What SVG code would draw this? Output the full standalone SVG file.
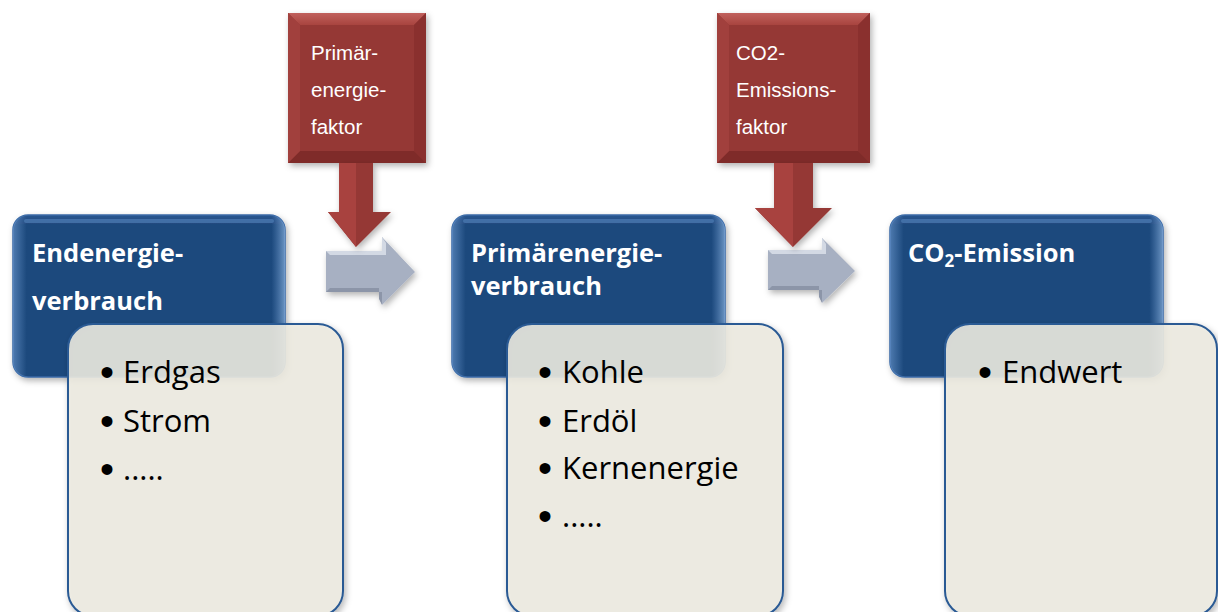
<svg xmlns="http://www.w3.org/2000/svg" width="1218" height="612" viewBox="0 0 1218 612">
<defs>
<style>
.title{font-family:"Open Sans","Liberation Sans",sans-serif;font-weight:bold;font-size:25.5px;fill:#ffffff}
.item{font-family:"Open Sans","Liberation Sans",sans-serif;font-size:31px;fill:#000000}
.bul{font-family:"Liberation Sans",Arial,sans-serif;font-size:40px;fill:#000000;text-anchor:middle}
.rtxt{font-family:"Liberation Sans",Arial,sans-serif;font-size:20.5px;fill:#ffffff}
.blue{fill:url(#gBlue);stroke:#3a6aa6;stroke-width:1.5}
.light{fill:#eeece1;fill-opacity:0.88;stroke:#2a5a94;stroke-width:2}
.red{fill:#953735}
.gray{fill:#a7b0c2}
</style>
<linearGradient id="gBlue" x1="0" y1="0" x2="0" y2="1">
<stop offset="0" stop-color="#2a5690"/>
<stop offset="0.06" stop-color="#1f497d"/>
<stop offset="1" stop-color="#1f497d"/>
</linearGradient>
<linearGradient id="gBlueEdge" x1="0" y1="0" x2="1" y2="0">
<stop offset="0" stop-color="#6f9bd1" stop-opacity="0.6"/>
<stop offset="0.05" stop-color="#6f9bd1" stop-opacity="0"/>
<stop offset="0.95" stop-color="#6f9bd1" stop-opacity="0"/>
<stop offset="1" stop-color="#8fb5e0" stop-opacity="0.7"/>
</linearGradient>
<linearGradient id="gRedTop" x1="0" y1="0" x2="0" y2="1">
<stop offset="0" stop-color="#c0605c"/>
<stop offset="1" stop-color="#a8443f"/>
</linearGradient>
<filter id="sh" x="-10%" y="-10%" width="130%" height="130%">
<feDropShadow dx="2" dy="3" stdDeviation="3" flood-color="#000" flood-opacity="0.3"/>
</filter>
</defs>

<g id="connectors">
<g id="gray-arrow-1" filter="url(#sh)">
<polygon class="gray" points="326,251 382,251 382,237 415,272 382,305 382,292 326,292"/>
<polygon points="326,251 382,251 382,237 386,243 386,255 330,255" fill="#d3d9e4"/>
<polygon points="326,292 382,292 382,305 379,299 379,288 330,288" fill="#8c95a8"/>
</g>
<g id="gray-arrow-2" filter="url(#sh)">
<polygon class="gray" points="768,250 822,250 822,238 855,271 822,303 822,290 768,290"/>
<polygon points="768,250 822,250 822,238 826,244 826,254 772,254" fill="#d3d9e4"/>
<polygon points="768,290 822,290 822,303 819,297 819,286 772,286" fill="#8c95a8"/>
</g>
</g>

<g id="red-1">
<rect class="red" x="288" y="13" width="138" height="150" filter="url(#sh)"/>
<polygon points="288,13 426,13 414,25 300,25" fill="url(#gRedTop)"/>
<polygon points="426,13 426,163 414,151 414,25" fill="#8a302e"/>
<polygon points="288,163 426,163 414,151 300,151" fill="#7f2b29"/>
<polygon points="288,13 300,25 300,151 288,163" fill="#a1403d"/>
<g filter="url(#sh)">
<polygon class="red" points="339,163 373,163 373,212 391,212 356,247 328,212 339,212"/>
</g>
<polygon points="339,163 356,163 356,247 328,212 339,212" fill="#a8423f"/>
<text class="rtxt" x="311" y="60">Primär-</text>
<text class="rtxt" x="311" y="97">energie-</text>
<text class="rtxt" x="311" y="134">faktor</text>
</g>

<g id="red-2">
<rect class="red" x="717" y="13" width="153" height="150" filter="url(#sh)"/>
<polygon points="717,13 870,13 858,25 729,25" fill="url(#gRedTop)"/>
<polygon points="870,13 870,163 858,151 858,25" fill="#8a302e"/>
<polygon points="717,163 870,163 858,151 729,151" fill="#7f2b29"/>
<polygon points="717,13 729,25 729,151 717,163" fill="#a1403d"/>
<g filter="url(#sh)">
<polygon class="red" points="774,163 813,163 813,208 832,208 793,247 755,208 774,208"/>
</g>
<polygon points="774,163 793,163 793,247 755,208 774,208" fill="#a8423f"/>
<text class="rtxt" x="736" y="60">CO2-</text>
<text class="rtxt" x="736" y="97">Emissions-</text>
<text class="rtxt" x="736" y="134">faktor</text>
</g>

<g id="node-endenergie">
<rect class="blue" x="13" y="215" width="272" height="162" rx="15" filter="url(#sh)"/>
<rect x="13" y="215" width="272" height="162" rx="15" fill="url(#gBlueEdge)"/>
<rect x="24" y="219" width="250" height="4" rx="2" fill="#4f7db5" opacity="0.7"/>
<text class="title" x="32" y="262">Endenergie-</text>
<text class="title" x="32" y="310">verbrauch</text>
<rect class="light" x="68" y="324" width="275" height="292" rx="25" filter="url(#sh)"/>
<text class="bul" x="107" y="386">•</text><text class="item" x="123" y="383">Erdgas</text>
<text class="bul" x="107" y="435">•</text><text class="item" x="123" y="432">Strom</text>
<text class="bul" x="107" y="483">•</text><text class="item" x="123" y="480">.....</text>
</g>

<g id="node-primaerenergie">
<rect class="blue" x="452" y="215" width="273" height="162" rx="15" filter="url(#sh)"/>
<rect x="452" y="215" width="273" height="162" rx="15" fill="url(#gBlueEdge)"/>
<rect x="463" y="219" width="251" height="4" rx="2" fill="#4f7db5" opacity="0.7"/>
<text class="title" x="471" y="262">Primärenergie-</text>
<text class="title" x="471" y="295">verbrauch</text>
<rect class="light" x="507" y="324" width="276" height="292" rx="25" filter="url(#sh)"/>
<text class="bul" x="545" y="386">•</text><text class="item" x="562" y="383">Kohle</text>
<text class="bul" x="545" y="435">•</text><text class="item" x="562" y="432">Erdöl</text>
<text class="bul" x="545" y="482">•</text><text class="item" x="562" y="479">Kernenergie</text>
<text class="bul" x="545" y="530">•</text><text class="item" x="562" y="527">.....</text>
</g>

<g id="node-co2">
<rect class="blue" x="890" y="215" width="273" height="162" rx="15" filter="url(#sh)"/>
<rect x="890" y="215" width="273" height="162" rx="15" fill="url(#gBlueEdge)"/>
<rect x="901" y="219" width="251" height="4" rx="2" fill="#4f7db5" opacity="0.7"/>
<text class="title" x="908" y="262">CO<tspan font-size="17" dy="5">2</tspan><tspan dy="-5">-Emission</tspan></text>
<rect class="light" x="945" y="324" width="272" height="292" rx="25" filter="url(#sh)"/>
<text class="bul" x="985" y="386">•</text><text class="item" x="1002" y="383">Endwert</text>
</g>
</svg>
